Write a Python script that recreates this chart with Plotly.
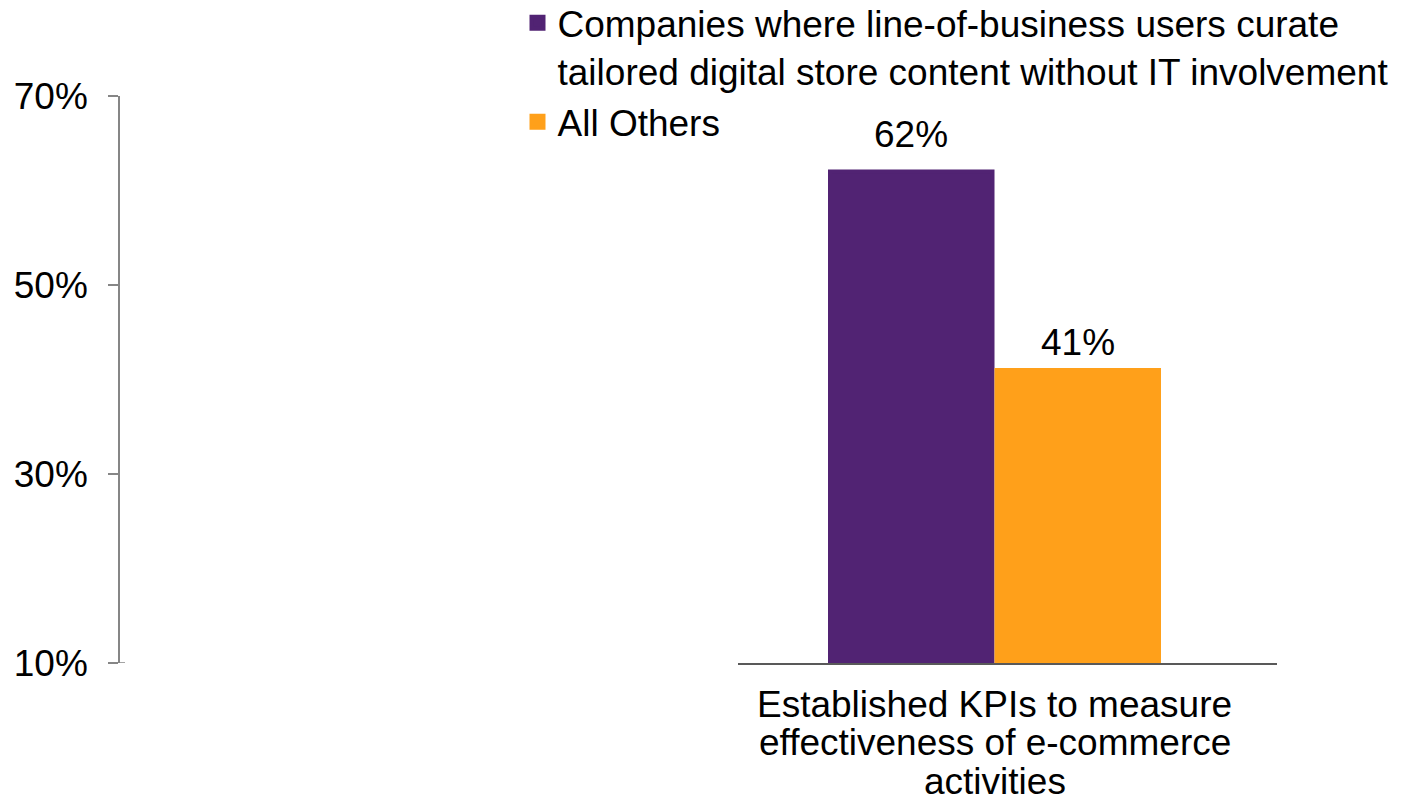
import plotly.graph_objects as go

# ---- data ----
category_lines = ["Established KPIs to measure", "effectiveness of e-commerce", "activities"]
series_names = [
    "Companies where line-of-business users curate<br>tailored digital store content without IT involvement",
    "All Others",
]
series_values = [62, 41]
y_tick_values = [10, 30, 50, 70]
y_tick_labels = ["10%", "30%", "50%", "70%"]

# ---- style ----
colors = ["#512373", "#FFA01A"]
FONT = "Liberation Sans, Arial, sans-serif"
FS = 37
W, H = 1401, 809
ML, MR, MT, MB = 119, 124, 96, 145.5
plot_w = W - ML - MR
plot_h = H - MT - MB
x_dom_start = (738 - ML) / plot_w
bar_px = 166.5
x_range = [(738 - 994.5) / bar_px, (1277 - 994.5) / bar_px]
bar_offsets = [-1.0, 0.0]
LW = 4  # outline in bar colour (also enlarges legend squares)
inset = (LW / 2) / bar_px
label_shift_px = [37.5, 28]
cat_first_px = 41
cat_spacing_px = 38.5

fig = go.Figure()
for name, val, col, off in zip(series_names, series_values, colors, bar_offsets):
    fig.add_trace(go.Bar(
        x=[0], y=[val], name=name, width=1.0 - 2 * inset, offset=off + inset,
        marker=dict(color=col, line=dict(width=LW, color=col)),
        hoverinfo="skip",
    ))

annotations = []
for val, off, shift in zip(series_values, bar_offsets, label_shift_px):
    annotations.append(dict(
        x=off + 0.5, y=val, xref="x", yref="y", text=f"{val}%",
        showarrow=False, yanchor="middle", yshift=shift,
        font=dict(family=FONT, size=FS, color="#000000"),
    ))
for i, line in enumerate(category_lines):
    annotations.append(dict(
        x=0, y=y_tick_values[0], xref="x", yref="y", text=line,
        showarrow=False, yanchor="middle",
        yshift=-(cat_first_px + i * cat_spacing_px),
        font=dict(family=FONT, size=FS, color="#000000"),
    ))

shapes = [
    # y-axis line extension below the 10% baseline
    dict(type="line", xref="paper", yref="y", x0=0, x1=0,
         ysizemode="pixel", yanchor=y_tick_values[0], y0=0, y1=-10.5,
         line=dict(color="#868686", width=1.5)),
    # crossing part of the 10% tick
    dict(type="line", xref="paper", yref="y", xsizemode="pixel", xanchor=0,
         x0=0, x1=6, y0=y_tick_values[0], y1=y_tick_values[0],
         line=dict(color="#868686", width=1.5)),
]

fig.update_layout(
    width=W, height=H,
    margin=dict(l=ML, r=MR, t=MT, b=MB, pad=0, autoexpand=False),
    paper_bgcolor="white", plot_bgcolor="rgba(0,0,0,0)",
    font=dict(family=FONT, size=FS, color="#000000"),
    barmode="group",
    showlegend=True,
    legend=dict(
        x=(517.5 - ML) / plot_w, y=(H - MB + 8) / plot_h,
        xanchor="left", yanchor="top",
        font=dict(family=FONT, size=FS, color="#000000"),
        bgcolor="rgba(0,0,0,0)", tracegroupgap=0, valign="top",
        traceorder="normal",
    ),
    xaxis=dict(
        domain=[x_dom_start, 1], range=x_range,
        showline=True, linecolor="#595959", linewidth=1.5,
        showticklabels=False, ticks="", showgrid=False, zeroline=False,
    ),
    yaxis=dict(
        anchor="free", position=0, range=[10, 70],
        tickvals=y_tick_values, ticktext=y_tick_labels,
        ticks="outside", ticklen=10, tickwidth=1.5, tickcolor="#868686",
        showline=True, linecolor="#868686", linewidth=1.5,
        showgrid=False, zeroline=False, ticklabelstandoff=13,
        tickfont=dict(family=FONT, size=FS, color="#000000"),
    ),
    annotations=annotations,
    shapes=shapes,
)

fig.write_html("out.html")
